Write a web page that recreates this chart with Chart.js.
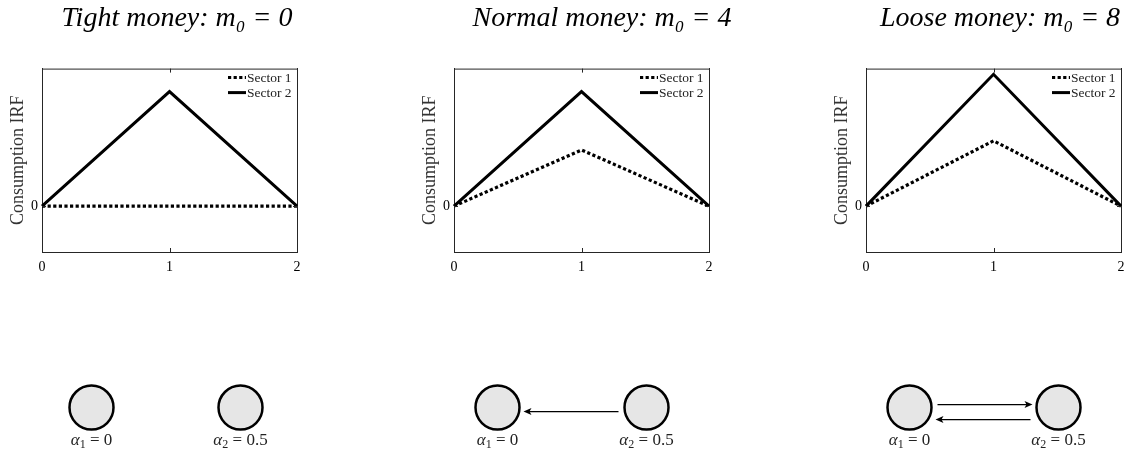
<!DOCTYPE html>
<html>
<head>
<meta charset="utf-8">
<script src="https://cdn.jsdelivr.net/npm/chart.js@4.4.1/dist/chart.umd.min.js"></script>
<style>
  html, body { margin: 0; padding: 0; background: #fff; }
  body { width: 1124px; height: 452px; position: relative; overflow: hidden; }
  canvas { position: absolute; }
</style>
</head>
<body>
<canvas id="irfTight" width="354" height="280" style="left:0px;top:0px"></canvas>
<canvas id="irfNormal" width="380" height="280" style="left:412px;top:0px"></canvas>
<canvas id="irfLoose" width="352" height="280" style="left:824px;top:0px"></canvas>
<canvas id="redTight" width="298" height="80" style="left:17px;top:372px"></canvas>
<canvas id="redNormal" width="298" height="80" style="left:423px;top:372px"></canvas>
<canvas id="redLoose" width="298" height="80" style="left:835px;top:372px"></canvas>
<script>
const periods = ['0', '1', '2'];
const tightSector1 = [0, 0, 0];
const tightSector2 = [0, 1, 0];
const normalSector1 = [0, 0.49, 0];
const normalSector2 = [0, 1, 0];
const looseSector1 = [0, 0.57, 0];
const looseSector2 = [0, 1.15, 0];
const yTicks = [0];
const sectorLabels = ['Sector 1', 'Sector 2'];
const regimes = ['Tight money', 'Normal money', 'Loose money'];
const moneyLevels = [0, 4, 8];
const alphas = [0, 0.5];
const tightEdges = [];
const normalEdges = [[2, 1]];
const looseEdges = [[1, 2], [2, 1]];

const serif = '"Liberation Serif", "DejaVu Serif", serif';
const frameColor = '#262626';

// top side of the box, plus small inward ticks like the original
const framePlugin = {
  id: 'frame',
  afterDatasetsDraw(chart) {
    const { ctx, chartArea: a, scales } = chart;
    ctx.save();
    ctx.strokeStyle = frameColor;
    ctx.lineWidth = 1;
    ctx.beginPath();
    ctx.moveTo(a.left, a.top + 0.5);
    ctx.lineTo(a.right, a.top + 0.5);
    scales.x.ticks.forEach((t, i) => {
      const x = Math.round(scales.x.getPixelForTick(i)) + 0.5;
      ctx.moveTo(x, a.top);
      ctx.lineTo(x, a.top + 4);
      ctx.moveTo(x, a.bottom);
      ctx.lineTo(x, a.bottom - 4);
    });
    yTicks.forEach(v => {
      const y = Math.round(scales.y.getPixelForValue(v)) + 0.5;
      ctx.moveTo(a.left, y);
      ctx.lineTo(a.left + 4, y);
      ctx.moveTo(a.right, y);
      ctx.lineTo(a.right - 4, y);
    });
    ctx.stroke();
    ctx.restore();
  }
};

const legendPlugin = {
  id: 'sectorLegend',
  afterDraw(chart) {
    const { ctx, chartArea: a } = chart;
    ctx.save();
    ctx.font = '13.5px ' + serif;
    ctx.textBaseline = 'middle';
    chart.data.datasets.forEach((ds, i) => {
      const y = a.top + 9 + i * 15;
      ctx.strokeStyle = ds.borderColor;
      ctx.lineWidth = 3;
      ctx.setLineDash(ds.borderDash || []);
      ctx.beginPath();
      ctx.moveTo(a.right - 69, y);
      ctx.lineTo(a.right - 51, y);
      ctx.stroke();
      ctx.setLineDash([]);
      ctx.fillStyle = '#222';
      ctx.fillText(ds.label, a.right - 50, y + 1);
    });
    ctx.restore();
  }
};

function crearIrf(id, sector1, sector2, i, anchoDerecho) {
  return new Chart(document.getElementById(id), {
    type: 'line',
    data: {
      labels: periods,
      datasets: [
        { label: sectorLabels[0], data: sector1, borderColor: '#000', borderWidth: 3.2, borderDash: [3.2, 2.4], borderCapStyle: 'butt', pointRadius: 0, tension: 0 },
        { label: sectorLabels[1], data: sector2, borderColor: '#000', borderWidth: 3, pointRadius: 0, tension: 0 }
      ]
    },
    options: {
      responsive: false,
      animation: false,
      events: [],
      layout: { padding: { top: 2, right: 0, bottom: 3, left: 0 } },
      plugins: {
        legend: { display: false },
        tooltip: { enabled: false },
        title: {
          display: true,
          text: `${regimes[i]}: m₀ = ${moneyLevels[i]}`,
          color: '#000',
          font: { family: serif, size: 28, style: 'italic', weight: 'normal' },
          padding: { top: 0, bottom: 33 }
        }
      },
      scales: {
        x: {
          offset: false,
          grid: { display: true, drawOnChartArea: false, drawTicks: false },
          border: { color: frameColor },
          ticks: { color: '#000', font: { family: serif, size: 14 }, padding: 7, maxRotation: 0 },
          afterFit: s => { s.height = 25; }
        },
        y: {
          min: -0.4,
          max: 1.2,
          afterBuildTicks: s => { s.ticks = yTicks.map(v => ({ value: v })); },
          grid: { display: true, drawOnChartArea: false, drawTicks: false },
          border: { color: frameColor },
          ticks: { color: '#000', font: { family: serif, size: 14 }, padding: 4 },
          title: {
            display: true,
            text: 'Consumption IRF',
            color: '#333',
            font: { family: serif, size: 18 },
            padding: { top: 7, bottom: 0 }
          },
          afterFit: s => { s.width = 42; }
        },
        // right side of the box; its width keeps the title centred like the original
        yRight: {
          position: 'right',
          min: -0.4,
          max: 1.2,
          grid: { display: true, drawOnChartArea: false, drawTicks: false },
          border: { color: frameColor },
          ticks: { display: false },
          afterFit: s => { s.width = anchoDerecho; }
        }
      }
    },
    plugins: [framePlugin, legendPlugin]
  });
}

function arrowPlugin(edges) {
  return {
    id: 'arrows',
    afterDatasetsDraw(chart) {
      const { ctx, scales } = chart;
      const r = 22;
      const yc = scales.y.getPixelForValue(0);
      ctx.save();
      ctx.strokeStyle = '#000';
      ctx.fillStyle = '#000';
      ctx.lineWidth = 1.3;
      edges.forEach(([from, to]) => {
        const doble = edges.some(e => e[0] === to && e[1] === from);
        const x0 = scales.x.getPixelForValue(from - 1);
        const x1 = scales.x.getPixelForValue(to - 1);
        const dir = Math.sign(x1 - x0);
        let y = yc + 4;
        if (doble) y = dir > 0 ? yc - 3 : yc + 12;
        const tail = x0 + dir * (r + 6);
        const tip = x1 - dir * (r + 4);
        ctx.beginPath();
        ctx.moveTo(tail, y);
        ctx.lineTo(tip - dir * 5, y);
        ctx.stroke();
        ctx.beginPath();
        ctx.moveTo(tip, y);
        ctx.lineTo(tip - dir * 8, y - 3.5);
        ctx.lineTo(tip - dir * 6, y);
        ctx.lineTo(tip - dir * 8, y + 3.5);
        ctx.closePath();
        ctx.fill();
      });
      ctx.restore();
    }
  };
}

const nodeLabelPlugin = {
  id: 'nodeLabels',
  afterDatasetsDraw(chart) {
    const { ctx, scales } = chart;
    const y = scales.y.getPixelForValue(0) + 33;
    ctx.save();
    ctx.fillStyle = '#222';
    ctx.textBaseline = 'middle';
    alphas.forEach((a, i) => {
      const partes = [
        { t: 'α', font: 'italic 17px ' + serif, dy: 0 },
        { t: String(i + 1), font: '12px ' + serif, dy: 4 },
        { t: ' = ' + a, font: '17px ' + serif, dy: 0 }
      ];
      let ancho = 0;
      partes.forEach(p => { ctx.font = p.font; ancho += ctx.measureText(p.t).width; });
      let x = scales.x.getPixelForValue(i) - ancho / 2;
      partes.forEach(p => {
        ctx.font = p.font;
        ctx.fillText(p.t, x, y + p.dy);
        x += ctx.measureText(p.t).width;
      });
    });
    ctx.restore();
  }
};

function crearRed(id, edges) {
  return new Chart(document.getElementById(id), {
    type: 'scatter',
    data: {
      datasets: [{
        data: alphas.map((a, i) => ({ x: i, y: 0 })),
        pointRadius: 22,
        pointBackgroundColor: '#e6e6e6',
        pointBorderColor: '#000',
        pointBorderWidth: 2.5,
        clip: false
      }]
    },
    options: {
      responsive: false,
      animation: false,
      events: [],
      layout: { padding: 0, autoPadding: false },
      plugins: { legend: { display: false }, tooltip: { enabled: false } },
      scales: {
        x: { display: false, min: -0.5, max: 1.5 },
        y: { display: false, min: -1.25, max: 1 }
      }
    },
    plugins: [arrowPlugin(edges), nodeLabelPlugin]
  });
}

crearIrf('irfTight', tightSector1, tightSector2, 0, 57);
crearIrf('irfNormal', normalSector1, normalSector2, 1, 83);
crearIrf('irfLoose', looseSector1, looseSector2, 2, 55);
crearRed('redTight', tightEdges);
crearRed('redNormal', normalEdges);
crearRed('redLoose', looseEdges);
</script>
</body>
</html>
